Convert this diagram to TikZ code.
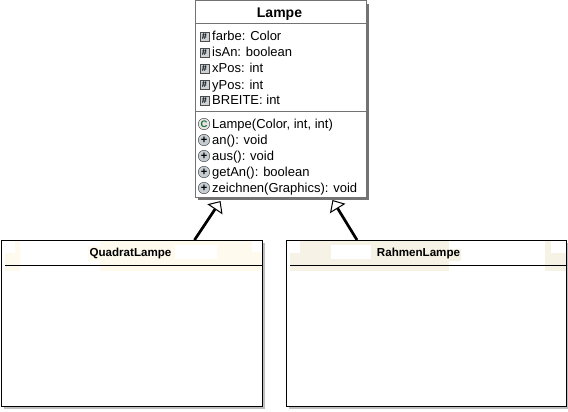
\documentclass[tikz,border=0pt]{standalone}
\usepackage{fontspec}
\setmainfont{Liberation Sans}
\usetikzlibrary{positioning,arrows.meta,shadows}
\definecolor{cream}{HTML}{F6F2E6}
\definecolor{palecream}{HTML}{FFFAEE}
\definecolor{iconblue}{HTML}{8C9CA8}
\definecolor{icongreen}{HTML}{1F6F35}
\tikzset{
  classbox/.style={draw=black, fill=white, line width=1pt, anchor=north west, inner sep=0pt, outer sep=0pt},
  member/.style={anchor=base west, inner sep=0pt, font=\fontsize{13}{15}\selectfont},
  classname/.style={inner sep=0pt, font=\bfseries\fontsize{11.6}{14}\selectfont},
  attricon/.style={draw=black!70, fill=iconblue!45, minimum size=9.5pt, inner sep=0pt, font=\bfseries\fontsize{9}{9}\selectfont},
  methicon/.style={circle, draw=black!75, fill=iconblue!50, minimum size=11.5pt, inner sep=0pt, font=\bfseries\fontsize{11}{11}\selectfont},
  ctoricon/.style={methicon, fill=black!10, text=icongreen, font=\bfseries\fontsize{9.5}{9.5}\selectfont},
  inherits/.style={line width=2.7pt, -{Triangle[open, fill=white, length=10pt, width=18pt, line width=1pt]}},
}
\begin{document}
\begin{tikzpicture}[x=1pt, y=-1pt]
\useasboundingbox (0,0) rectangle (568,412);
% Lampe
\node[classbox, draw=black!55, minimum width=171pt, minimum height=196pt,
  drop shadow={shadow xshift=3pt, shadow yshift=-3pt, opacity=1, fill=black!55}] (lampeBox) at (195,1) {};
\draw[black!55, line width=1pt] (195,24) -- (366,24);
\draw[black!55, line width=1pt] (195,111) -- (366,111);
\node[classname, font=\bfseries\fontsize{14}{16}\selectfont] (lampe) at (279.5,14.5) {Lampe};
% attributes
\foreach \y/\txt [count=\i] in {36.5/{farbe: Color}, 52.5/{isAn: boolean}, 68.5/{xPos: int}, 84.5/{yPos: int}, 100.5/{BREITE: int}}
{
  \node[attricon] (a\i) at (204.5,\y) {\#};
  \node[member] (at\i) at (212,\y+4.5) {\txt};
}
% methods
\node[ctoricon] (m0) at (204,124) {C};
\node[member] (mt0) at (212,128.5) {Lampe(Color, int, int)};
\foreach \y/\txt [count=\i] in {140/{an(): void}, 156/{aus(): void}, 172/{getAn(): boolean}, 188/{zeichnen(Graphics): void}}
{
  \node[methicon] (m\i) at (204,\y) {+};
  \node[member] (mt\i) at (212,\y+4.5) {\txt};
}
% QuadratLampe
\node[classbox, minimum width=261pt, minimum height=166pt,
  drop shadow={shadow xshift=3pt, shadow yshift=-3pt, opacity=1, fill=black!25}] (quadratBox) at (1,240) {};
\fill[palecream] (5,241) rectangle (20,271);
\fill[white] (5,241) rectangle (15,253);
\fill[palecream] (100,241) rectangle (261.5,271);
\fill[palecream] (88,246) rectangle (100,261);
\fill[white] (175,245) rectangle (217,259);
\fill[white] (252,241) rectangle (261.5,252);
\draw[line width=1pt] (5,265) -- (262,265);
\node[classname] (quadrat) at (130.5,253) {QuadratLampe};
% RahmenLampe
\node[classbox, minimum width=280pt, minimum height=166pt,
  drop shadow={shadow xshift=3pt, shadow yshift=-3pt, opacity=1, fill=black!25}] (rahmenBox) at (286,240) {};
\fill[cream] (300,241) rectangle (449,271);
\fill[cream] (290,253) rectangle (300,271);
\fill[white] (331,245) rectangle (371,259);
\fill[cream] (449,249) rectangle (461,261);
\fill[cream] (545,241) rectangle (565.5,271);
\fill[white] (551,241) rectangle (565.5,253);
\draw[line width=1pt] (290,265) -- (566,265);
\node[classname] (rahmen) at (418.5,253) {RahmenLampe};
% inheritance
\coordinate (quadratT) at ([xshift=63pt]quadratBox.north);
\coordinate (rahmenT) at ([xshift=-69pt]rahmenBox.north);
\coordinate (lampeL) at ([xshift=-60pt,yshift=-4pt]lampeBox.south);
\coordinate (lampeR) at ([xshift=52pt,yshift=-3pt]lampeBox.south);
\draw[inherits] (quadratT) -- (lampeL);
\draw[inherits] (rahmenT) -- (lampeR);
\end{tikzpicture}
\end{document}
